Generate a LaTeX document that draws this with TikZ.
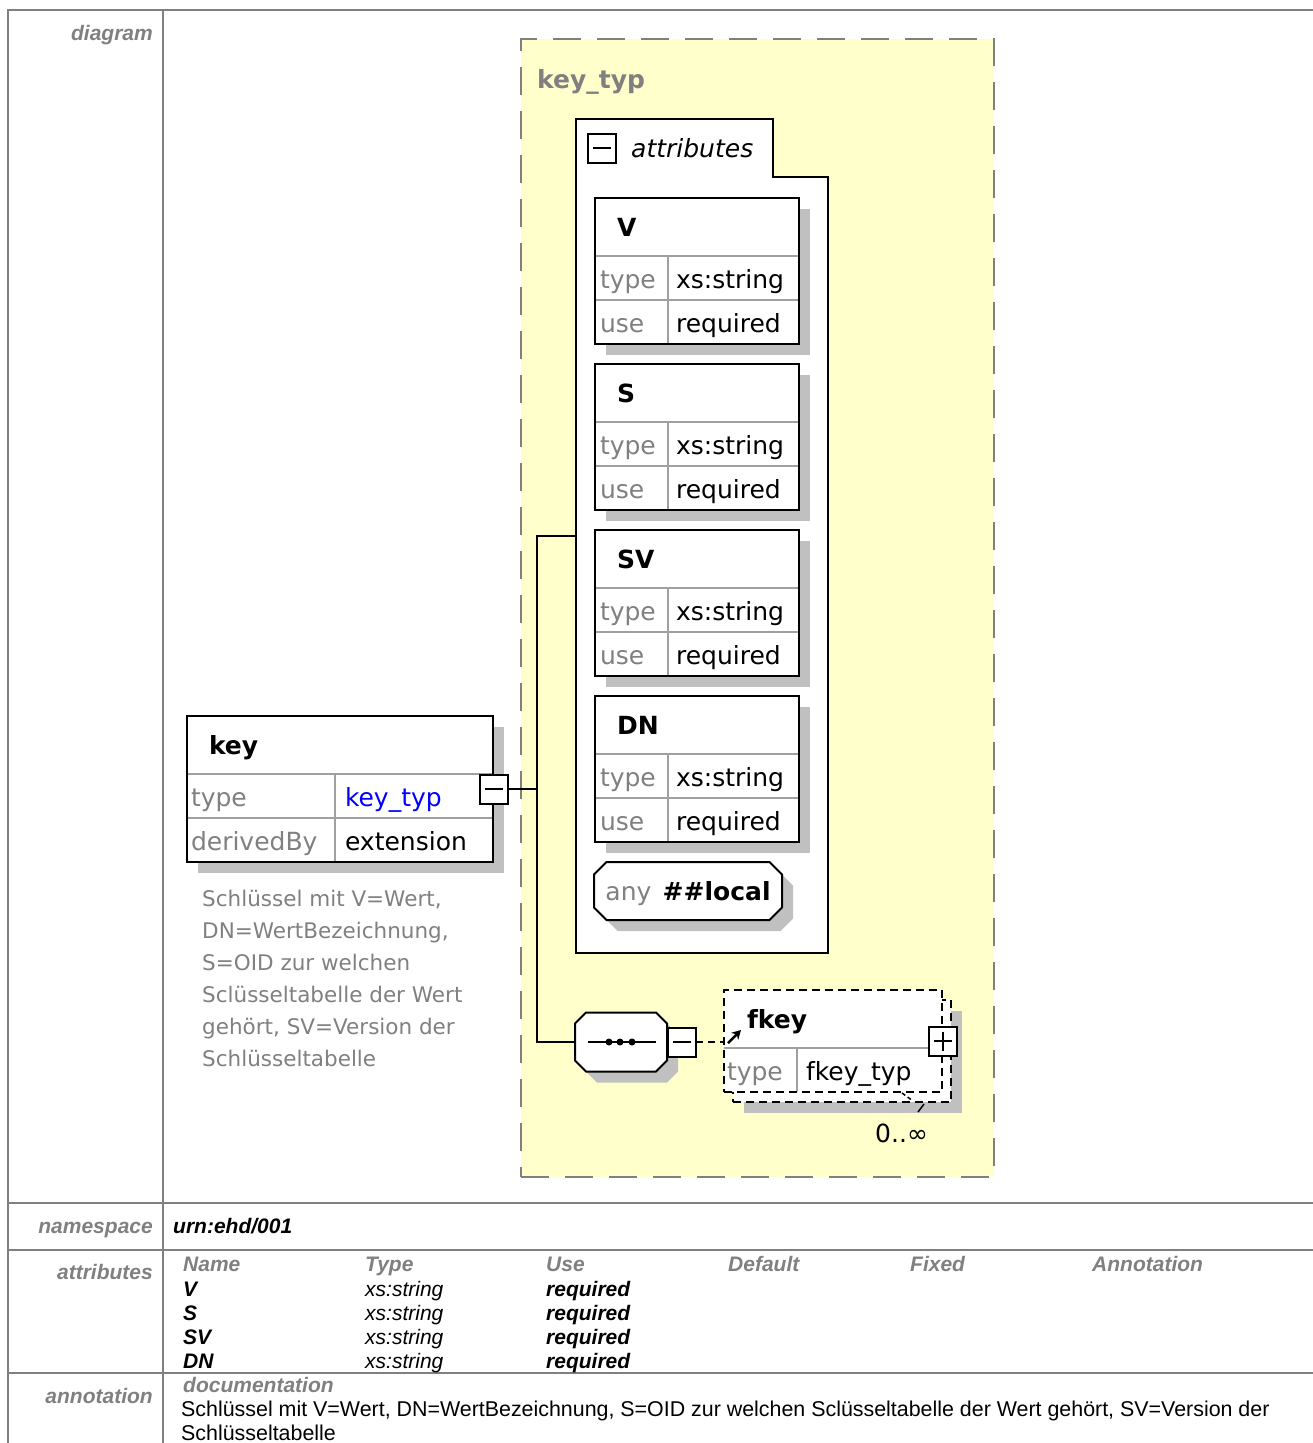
\documentclass[tikz,border=0pt]{standalone}
\usepackage{fontspec}
\setmainfont{Liberation Sans}
\newfontfamily\xsd{DejaVu Sans}
\usepackage{xcolor}
\usepackage{tikz}
\usetikzlibrary{arrows.meta, positioning, shapes.misc, fit, shadows}

\definecolor{rulegray}{HTML}{808080}
\definecolor{typyellow}{HTML}{FFFFCC}
\definecolor{shadowgray}{HTML}{C0C0C0}
\definecolor{cellline}{HTML}{A0A0A0}

\begin{document}
\begin{tikzpicture}[
    x=1pt, y=-1pt,
    rule/.style={draw=rulegray, line width=2pt},
    rowlab/.style={anchor=base east, inner sep=0pt, text=rulegray, font=\fontsize{21}{25}\selectfont\bfseries\itshape},
    colhead/.style={anchor=base west, inner sep=0pt, text=rulegray, font=\fontsize{21}{25}\selectfont\bfseries\itshape},
    cellbf/.style={anchor=base west, inner sep=0pt, font=\fontsize{21}{25}\selectfont\bfseries\itshape},
    cellit/.style={anchor=base west, inner sep=0pt, font=\fontsize{21}{25}\selectfont\itshape},
    plain/.style={anchor=base west, inner sep=0pt, font=\fontsize{21.4}{25}\selectfont},
    boxshadow/.style={drop shadow={shadow xshift=11pt, shadow yshift=-11pt, fill=shadowgray, opacity=1}},
    elhead/.style={draw=cellline, line width=1.5pt, fill=white, outer sep=0pt, minimum height=58pt, text height=18pt, text depth=0pt, align=left, font=\xsd\bfseries\fontsize{25}{30}\selectfont},
    ellab/.style={draw=cellline, line width=1.5pt, fill=white, outer sep=0pt, minimum height=44pt, text height=20pt, text depth=0pt, align=left, text=rulegray, font=\xsd\fontsize{25}{30}\selectfont},
    elval/.style={ellab, text=black},
    attrhead/.style={elhead, boxshadow, text width=160pt, inner xsep=22pt},
    attrlab/.style={ellab, boxshadow, text width=63pt, inner xsep=5pt},
    attrval/.style={elval, boxshadow, text width=115pt, inner xsep=8pt},
    elframe/.style={draw, line width=2pt, inner sep=0pt},
    togglebox/.style={draw, line width=2pt, fill=white, minimum width=28pt, minimum height=29pt, inner sep=0pt, outer sep=0pt},
    octo/.style={chamfered rectangle, chamfered rectangle xsep=11pt, draw, line width=2pt, fill=white, inner sep=0pt, boxshadow},
    link/.style={draw, line width=2pt},
    xsdtext/.style={inner sep=0pt, font=\xsd\fontsize{25}{30}\selectfont}
]
\useasboundingbox (0,0) rectangle (1313,1443);

% Table frame
\draw[rule] (8,1443) -- (8,10) -- (1313,10);
\draw[rule] (163,10) -- (163,1443);
\draw[rule] (8,1203) -- (1313,1203);
\draw[rule] (8,1250) -- (1313,1250);
\draw[rule] (8,1373) -- (1313,1373);

% Row labels
\node[rowlab] (lbldiagram) at (153,40) {diagram};
\node[rowlab] (lblns) at (153,1233) {namespace};
\node[rowlab] (lblattr) at (153,1279) {attributes};
\node[rowlab] (lblannot) at (153,1403) {annotation};

% Namespace
\node[cellbf] (nsval) at (173,1233) {urn:ehd/001};

% Attribute table
\node[colhead] (hname) at (183,1271) {Name};
\node[colhead] (htype) at (365,1271) {Type};
\node[colhead] (huse) at (546,1271) {Use};
\node[colhead] (hdefault) at (728,1271) {Default};
\node[colhead] (hfixed) at (910,1271) {Fixed};
\node[colhead] (hannot) at (1092,1271) {Annotation};
\node[cellbf] (rv) at (183,1296) {V};
\node[cellit] (rvtype) at (365,1296) {xs:string};
\node[cellbf] (rvuse) at (546,1296) {required};
\node[cellbf] (rs) at (183,1320) {S};
\node[cellit] (rstype) at (365,1320) {xs:string};
\node[cellbf] (rsuse) at (546,1320) {required};
\node[cellbf] (rsv) at (183,1344) {SV};
\node[cellit] (rsvtype) at (365,1344) {xs:string};
\node[cellbf] (rsvuse) at (546,1344) {required};
\node[cellbf] (rdn) at (183,1368) {DN};
\node[cellit] (rdntype) at (365,1368) {xs:string};
\node[cellbf] (rdnuse) at (546,1368) {required};

% Annotation
\node[colhead] (hdoc) at (183,1392) {documentation};
\node[plain] (doc1) at (181,1416) {Schlüssel mit V=Wert, DN=WertBezeichnung, S=OID zur welchen Sclüsseltabelle der Wert gehört, SV=Version der};
\node[plain] (doc2) at (181,1440) {Schlüsseltabelle};

% Complex type key_typ
\node[draw=rulegray, line width=2pt, dash pattern=on 28pt off 16pt, fill=typyellow, anchor=north west, minimum width=473pt, minimum height=1138pt, inner sep=0pt] (keytyp) at (520,38) {};
\node[xsdtext, anchor=base west, text=rulegray, font=\xsd\bfseries\fontsize{25}{30}\selectfont] (typtitle) at (537,88) {key\_typ};

% Attribute group
\draw[line width=2pt, fill=white] (576,119) -- (773,119) -- (773,177) -- (828,177) -- (828,953) -- (576,953) -- cycle;
\coordinate (attrin) at (576,536);
\node[togglebox] (attrminus) at (602,148) {};
\draw[line width=2pt] ([xshift=5pt]attrminus.west) -- ([xshift=-5pt]attrminus.east);
\node[xsdtext, anchor=base west, font=\xsd\itshape\fontsize{25}{30}\selectfont] (attrtitle) at (631,157) {attributes};

% Attribute V
\node[attrhead, anchor=north west] (vname) at (595,198) {V};
\node[attrlab, below=0pt of vname.south west, anchor=north west] (vtype) {type};
\node[attrval, right=0pt of vtype] (vtypeval) {xs:string};
\node[attrlab, below=0pt of vtype] (vuse) {use};
\node[attrval, right=0pt of vuse] (vuseval) {required};
\node[elframe, fit=(vname)(vuseval)] (vbox) {};

% Attribute S
\node[attrhead, anchor=north west] (sname) at (595,364) {S};
\node[attrlab, below=0pt of sname.south west, anchor=north west] (stype) {type};
\node[attrval, right=0pt of stype] (stypeval) {xs:string};
\node[attrlab, below=0pt of stype] (suse) {use};
\node[attrval, right=0pt of suse] (suseval) {required};
\node[elframe, fit=(sname)(suseval)] (sbox) {};

% Attribute SV
\node[attrhead, anchor=north west] (svname) at (595,530) {SV};
\node[attrlab, below=0pt of svname.south west, anchor=north west] (svtype) {type};
\node[attrval, right=0pt of svtype] (svtypeval) {xs:string};
\node[attrlab, below=0pt of svtype] (svuse) {use};
\node[attrval, right=0pt of svuse] (svuseval) {required};
\node[elframe, fit=(svname)(svuseval)] (svbox) {};

% Attribute DN
\node[attrhead, anchor=north west] (dnname) at (595,696) {DN};
\node[attrlab, below=0pt of dnname.south west, anchor=north west] (dntype) {type};
\node[attrval, right=0pt of dntype] (dntypeval) {xs:string};
\node[attrlab, below=0pt of dntype] (dnuse) {use};
\node[attrval, right=0pt of dnuse] (dnuseval) {required};
\node[elframe, fit=(dnname)(dnuseval)] (dnbox) {};

% Wildcard
\node[octo, minimum width=188pt, minimum height=58pt, text height=18pt, text depth=0pt, font=\xsd\fontsize{25}{30}\selectfont] (anyattr) at (688,891) {\textcolor{rulegray}{any}\hspace{0.45em}\textbf{\#\#local}};

% Element key
\node[elhead, boxshadow, anchor=north west, text width=262pt, inner xsep=22pt] (keyname) at (187,716) {key};
\node[ellab, boxshadow, below=0pt of keyname.south west, anchor=north west, text width=140pt, inner xsep=4pt] (keytype) {type};
\node[elval, boxshadow, right=0pt of keytype, text width=138pt, inner xsep=10pt, text=blue] (keytypeval) {key\_typ};
\node[ellab, boxshadow, below=0pt of keytype, text width=140pt, inner xsep=4pt] (keyderiv) {derivedBy};
\node[elval, boxshadow, right=0pt of keyderiv, text width=138pt, inner xsep=10pt] (keyderivval) {extension};
\node[elframe, fit=(keyname)(keyderivval)] (keybox) {};
\node[togglebox] (keyminus) at (keybox.east) {};
\draw[line width=2pt] ([xshift=5pt]keyminus.west) -- ([xshift=-5pt]keyminus.east);
\node[xsdtext, anchor=north west, align=left, text=rulegray, font=\xsd\fontsize{21.5}{32}\selectfont] (keydoc) at (202,890) {Schlüssel mit V=Wert,\\DN=WertBezeichnung,\\S=OID zur welchen\\Sclüsseltabelle der Wert\\gehört, SV=Version der\\Schlüsseltabelle};

% Sequence
\node[octo, minimum width=92pt, minimum height=59pt, text height=37pt, text depth=0pt] (seq) at (621,1042) {\hspace{70pt}};
\draw[line width=2pt] ([xshift=14pt]seq.west) -- ([xshift=-12pt]seq.east);
\fill ([xshift=-12pt]seq.center) circle (3.5pt);
\fill ([xshift=-1pt]seq.center) circle (3.5pt);
\fill ([xshift=11pt]seq.center) circle (3.5pt);
\node[togglebox, anchor=west] (seqminus) at (seq.east) {};
\draw[line width=2pt] ([xshift=5pt]seqminus.west) -- ([xshift=-5pt]seqminus.east);

% Element fkey (0..unbounded)
\node[draw, line width=2pt, dash pattern=on 8pt off 5pt, fill=white, boxshadow, anchor=north west, minimum width=218pt, minimum height=102pt, inner sep=0pt] (fkeystack) at (732,999) {};
\node[elhead, draw=none, anchor=north west, text width=172pt, inner xsep=23pt] (fkeyname) at (724,990) {fkey};
\node[ellab, draw=none, below=0pt of fkeyname.south west, anchor=north west, text width=67pt, inner xsep=3pt] (fkeytype) {type};
\node[elval, draw=none, right=0pt of fkeytype, text width=127pt, inner xsep=9pt] (fkeytypeval) {fkey\_typ};
\draw[draw=cellline, line width=1.5pt] (fkeyname.south west) -- (fkeyname.south east);
\draw[draw=cellline, line width=1.5pt] (fkeytype.north east) -- (fkeytype.south east);
\node[elframe, dash pattern=on 8pt off 5pt, fit=(fkeyname)(fkeytypeval)] (fkeybox) {};
\node[togglebox] (fkeyplus) at (fkeybox.east) {};
\draw[line width=2pt] ([xshift=5pt]fkeyplus.west) -- ([xshift=-5pt]fkeyplus.east);
\draw[line width=2pt] ([yshift=-5pt]fkeyplus.north) -- ([yshift=5pt]fkeyplus.south);
\draw[line width=2.5pt, -{Stealth[length=9pt, width=10pt]}] ([xshift=5pt, yshift=-2pt]fkeybox.west) -- ++(13,-13);
\draw[line width=1.5pt, dash pattern=on 4pt off 3pt] (902,1093) -- (913,1101);
\draw[line width=1.5pt] (924,1104) -- (918,1112);
\node[xsdtext, anchor=base west] (fkeyocc) at (875,1142) {0..∞};

% Connectors
\coordinate (fork) at (537,789);
\draw[link] (keyminus.east) -- (fork);
\draw[link] (attrin) -| (fork) |- (seq.west);
\draw[link, dash pattern=on 7pt off 5pt] (seqminus.east) -- (seqminus.east -| fkeybox.west);

\end{tikzpicture}
\end{document}
